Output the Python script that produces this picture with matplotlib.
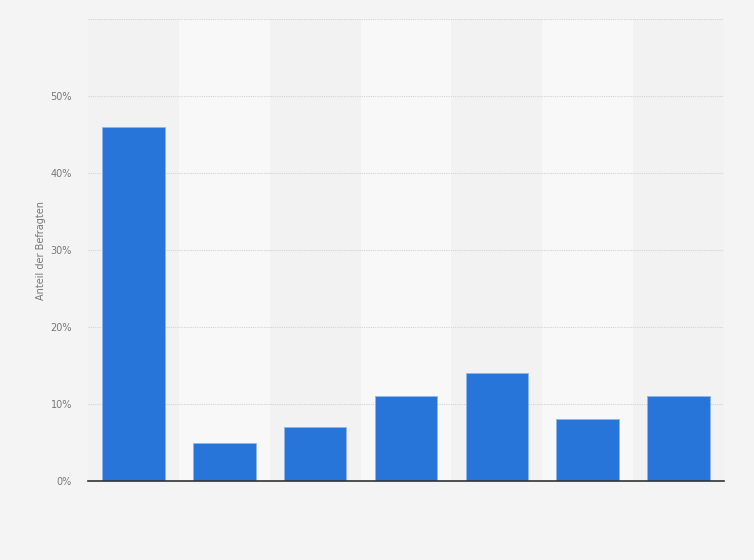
import matplotlib
matplotlib.use("Agg")
import matplotlib.pyplot as plt
from matplotlib.ticker import FuncFormatter

categories = ["A", "B", "C", "D", "E", "F", "G"]
values = [46, 5, 7, 11, 14, 8, 11]
yticks = [0, 10, 20, 30, 40, 50, 60]
ylabel = "Anteil der Befragten"

fig = plt.figure(figsize=(7.54, 5.60), dpi=100)
fig.patch.set_facecolor("#f4f4f4")
ax = fig.add_axes([88/754, 79/560, 636/754, 462/560])
ax.set_facecolor("#f2f2f2")

x = list(range(len(categories)))
for i in x:
    if i % 2 == 1:
        ax.axvspan(i - 0.5, i + 0.5, color="#f8f8f8", zorder=0, lw=0)

ax.bar(x, values, width=0.69, color="#2775d9", edgecolor="#8fb6ec", linewidth=0.6, zorder=3)

ax.set_xlim(-0.5, len(categories) - 0.5)
ax.set_ylim(0, 60)
ax.set_yticks(yticks)
ax.yaxis.set_major_formatter(FuncFormatter(lambda v, p: "" if v == 60 else f"{int(v)}%"))
ax.set_xticks([])
ax.grid(axis="y", color="#d2d2d2", linestyle=(0, (1, 1)), linewidth=0.8, zorder=1)
for s in ["top", "right", "left"]:
    ax.spines[s].set_visible(False)
ax.spines["bottom"].set_color("#333333")
ax.spines["bottom"].set_linewidth(1.2)
ax.spines["bottom"].set_zorder(4)
ax.tick_params(axis="y", length=0, labelsize=7, labelcolor="#777777", pad=11.5)
ax.set_ylabel(ylabel, fontsize=7, color="#777777", labelpad=3)

fig.savefig("out.png", dpi=100, facecolor=fig.get_facecolor())
